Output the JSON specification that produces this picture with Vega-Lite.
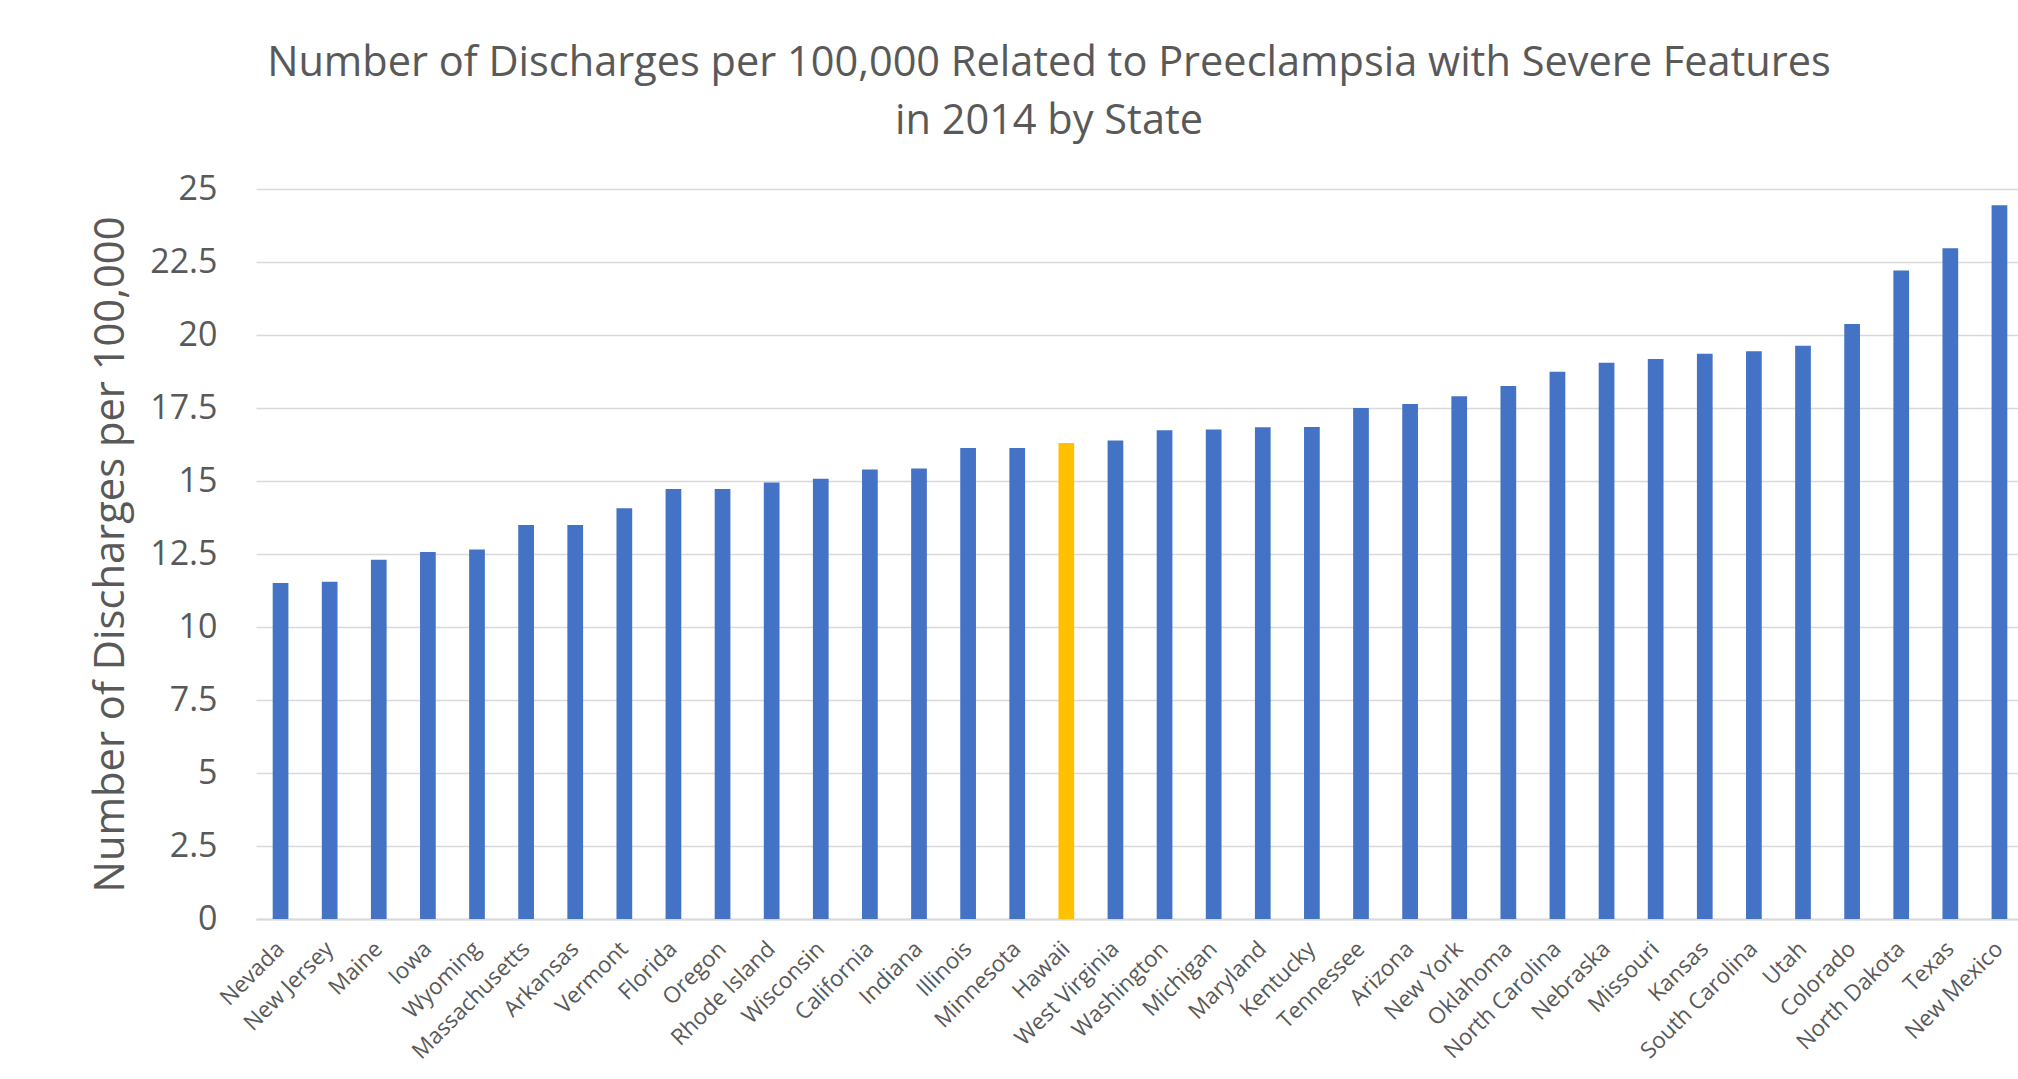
{
  "$schema": "https://vega.github.io/schema/vega-lite/v6.json",
  "width": 1762,
  "height": 730,
  "autosize": {"type": "none"},
  "padding": {"left": 256, "top": 189, "right": 0, "bottom": 160},
  "background": "white",
  "title": {
    "text": ["Number of Discharges per 100,000 Related to Preeclampsia with Severe Features", "in 2014 by State"],
    "anchor": "middle",
    "frame": "group",
    "dx": -88,
    "offset": 30,
    "font": "Open Sans",
    "fontSize": 41.5,
    "fontWeight": "normal",
    "color": "#595959",
    "lineHeight": 58
  },
  "data": {
    "values": [
      {"state": "Nevada", "value": 11.51},
      {"state": "New Jersey", "value": 11.55},
      {"state": "Maine", "value": 12.3},
      {"state": "Iowa", "value": 12.57},
      {"state": "Wyoming", "value": 12.65},
      {"state": "Massachusetts", "value": 13.49},
      {"state": "Arkansas", "value": 13.49},
      {"state": "Vermont", "value": 14.07},
      {"state": "Florida", "value": 14.73},
      {"state": "Oregon", "value": 14.73},
      {"state": "Rhode Island", "value": 14.95},
      {"state": "Wisconsin", "value": 15.08},
      {"state": "California", "value": 15.39},
      {"state": "Indiana", "value": 15.43},
      {"state": "Illinois", "value": 16.13},
      {"state": "Minnesota", "value": 16.13},
      {"state": "Hawaii", "value": 16.3},
      {"state": "West Virginia", "value": 16.39},
      {"state": "Washington", "value": 16.74},
      {"state": "Michigan", "value": 16.76},
      {"state": "Maryland", "value": 16.84},
      {"state": "Kentucky", "value": 16.85},
      {"state": "Tennessee", "value": 17.5},
      {"state": "Arizona", "value": 17.64},
      {"state": "New York", "value": 17.9},
      {"state": "Oklahoma", "value": 18.25},
      {"state": "North Carolina", "value": 18.74},
      {"state": "Nebraska", "value": 19.05},
      {"state": "Missouri", "value": 19.18},
      {"state": "Kansas", "value": 19.36},
      {"state": "South Carolina", "value": 19.44},
      {"state": "Utah", "value": 19.63},
      {"state": "Colorado", "value": 20.38},
      {"state": "North Dakota", "value": 22.21},
      {"state": "Texas", "value": 22.97},
      {"state": "New Mexico", "value": 24.44}
    ]
  },
  "mark": {"type": "bar"},
  "encoding": {
    "x": {
      "field": "state",
      "type": "nominal",
      "sort": null,
      "scale": {"paddingInner": 0.68, "paddingOuter": 0.34, "range": [0, 1768]},
      "axis": {
        "title": null,
        "labelAngle": -45,
        "labelAlign": "right",
        "labelBaseline": "middle",
        "labelFont": "Open Sans",
        "labelFontSize": 22.5,
        "labelColor": "#595959",
        "labelPadding": 26,
        "ticks": false,
        "tickSize": 0,
        "domainColor": "#d9d9d9",
        "domainWidth": 2,
        "grid": false,
        "labelOverlap": false
      }
    },
    "y": {
      "field": "value",
      "type": "quantitative",
      "scale": {"domain": [0, 25], "nice": false},
      "axis": {
        "title": "Number of Discharges per 100,000",
        "titleFont": "Open Sans",
        "titleFontSize": 41.7,
        "titleFontWeight": "normal",
        "titleColor": "#595959",
        "titlePadding": 17,
        "values": [0, 2.5, 5, 7.5, 10, 12.5, 15, 17.5, 20, 22.5, 25],
        "format": ".1~f",
        "labelFont": "Open Sans",
        "labelFontSize": 34,
        "labelColor": "#595959",
        "labelPadding": 39,
        "ticks": false,
        "tickSize": 0,
        "domain": false,
        "gridColor": "#d9d9d9",
        "gridWidth": 1.5
      }
    },
    "color": {
      "condition": {"test": "datum.state === 'Hawaii'", "value": "#FFC000"},
      "value": "#4472C4"
    }
  },
  "config": {"view": {"stroke": null}}
}
